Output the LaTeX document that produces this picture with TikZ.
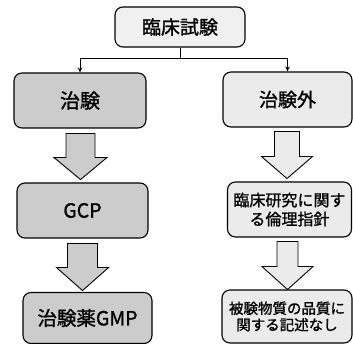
\documentclass[tikz,border=0pt]{standalone}
\usepackage{fontspec}
\setmainfont{Noto Sans CJK JP}[FakeBold=1.2]
\usetikzlibrary{arrows.meta,calc}
\definecolor{leftfill}{gray}{0.80}
\definecolor{rightfill}{gray}{0.92}
\definecolor{topfill}{gray}{0.94}
\tikzset{
  box/.style={draw=black, line width=1.1pt, rounded corners=8pt, align=center, inner sep=0pt},
  lbox/.style={box, fill=leftfill},
  rbox/.style={box, fill=rightfill},
  tbox/.style={box, fill=topfill},
  link/.style={draw=black, line width=1pt, -{Stealth[length=5pt,width=4.5pt]}},
  larrow/.style={draw=black, line width=0.9pt, fill=leftfill, line join=miter},
  rarrow/.style={draw=black, line width=0.9pt, fill=rightfill, line join=miter}
}
\begin{document}
\begin{tikzpicture}[x=1pt,y=-1pt]
\useasboundingbox (0,0) rectangle (353,344);
\node[tbox, minimum width=130pt, minimum height=40pt, font=\fontsize{19}{22}\selectfont] (top) at (180,27) {臨床試験};
\node[lbox, minimum width=132pt, minimum height=55pt, font=\fontsize{20}{23}\selectfont] (l1) at (80,100.5) {治験};
\node[rbox, minimum width=129pt, minimum height=55pt, font=\fontsize{19}{22}\selectfont] (r1) at (287.5,99.5) {治験外};
\node[lbox, minimum width=131pt, minimum height=55pt, font=\fontsize{19.5}{22}\selectfont] (l2) at (82.5,210.5) {GCP};
\node[rbox, minimum width=124pt, minimum height=55pt, font=\fontsize{16}{19}\selectfont] (r2) at (289.5,209.5) {臨床研究に関す\\る倫理指針};
\node[lbox, minimum width=129pt, minimum height=51pt, font=\fontsize{19.5}{22}\selectfont] (l3) at (87.5,318) {治験薬GMP};
\node[rbox, minimum width=130pt, minimum height=53pt, font=\fontsize{14.5}{16.5}\selectfont] (r3) at (287,316.5) {被験物質の品質に\\関する記述なし};
\draw[link] (top.south) -- ++(0,11) -| (l1.north);
\draw[link] (top.south) -- ++(0,11) -| (r1.north);
\draw[larrow] ($(l1.south)+(-14,5)$) -- ++(29,0) -- ++(0,24) -- ++(12,0) -- ++(-26.5,22) -- ++(-26.5,-22) -- ++(12,0) -- cycle;
\draw[larrow] ($(l2.south)+(-15,5)$) -- ++(30,0) -- ++(0,24) -- ++(11,0) -- ++(-26,23) -- ++(-26,-23) -- ++(11,0) -- cycle;
\draw[rarrow] ($(r1.south)+(-13,4)$) -- ++(25,0) -- ++(0,25) -- ++(13,0) -- ++(-25.5,22) -- ++(-25.5,-22) -- ++(13,0) -- cycle;
\draw[rarrow] ($(r2.south)+(-12.5,4)$) -- ++(21,0) -- ++(0,25) -- ++(15,0) -- ++(-25.5,23) -- ++(-25.5,-23) -- ++(15,0) -- cycle;
\end{tikzpicture}
\end{document}
